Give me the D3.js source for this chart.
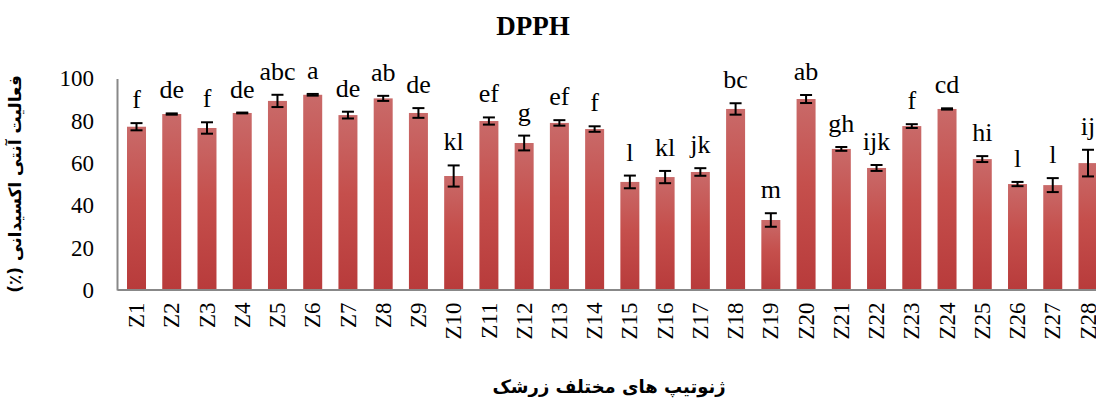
<html>
    <head>
        <meta charset="utf-8">
        <title>DPPH</title>
        <style>
            body { margin: 0; background: white; }
            text { font-family: "Liberation Serif", "Times New Roman", serif; }
        </style>
    </head>
    <body>
        <svg id="container" width="1096" height="407">
            <defs>
                <linearGradient id="barFill" x1="0" y1="0" x2="0" y2="1">
                    <stop offset="0%" stop-color="#c96a69"></stop>
                    <stop offset="45%" stop-color="#c54f4c"></stop>
                    <stop offset="100%" stop-color="#b83b3b"></stop>
                </linearGradient>
            </defs>
            <g id="bars"></g>
            <g id="yAxis"></g>
            <g id="xAxis"></g>
        </svg>
    </body>
    <script src="https://d3js.org/d3.v7.min.js"></script>
    <script>
        // genotypes
        let genotypes = ["Z1","Z2","Z3","Z4","Z5","Z6","Z7","Z8","Z9","Z10","Z11","Z12","Z13","Z14",
                         "Z15","Z16","Z17","Z18","Z19","Z20","Z21","Z22","Z23","Z24","Z25","Z26","Z27","Z28"]
        // antioxidant activity (%)
        let activity = [77.2, 83.2, 76.6, 83.7, 89.4, 92.3, 82.7, 90.6, 83.7, 53.9, 79.9, 69.5, 79.0, 76.1,
                        51.1, 53.4, 55.8, 85.6, 33.1, 90.3, 66.7, 57.7, 77.5, 85.6, 61.9, 50.1, 49.6, 60.0]
        // standard error
        let errors = [1.7, 0.3, 2.7, 0.2, 2.9, 0.4, 1.6, 1.2, 2.3, 5.0, 1.7, 3.5, 1.3, 1.3,
                      3.0, 2.9, 1.8, 2.7, 3.2, 1.9, 0.9, 1.4, 0.9, 0.3, 1.4, 1.0, 3.3, 6.3]
        // duncan letters
        let letters = ["f","de","f","de","abc","a","de","ab","de","kl","ef","g","ef","f",
                       "l","kl","jk","bc","m","ab","gh","ijk","f","cd","hi","l","l","ij"]
        let yTicks = [0, 20, 40, 60, 80, 100]

        let clients = genotypes.map((g, i) => ({name: g, value: activity[i], err: errors[i], letter: letters[i]}))

        let container = d3.select("#container")

        let yScale = d3.scaleLinear().domain([0, 100]).range([290, 78.5])
        let xScale = d3.scaleBand()
                       .domain(genotypes)
                       .range([117, 1107.5])
                       .paddingInner(0.461)
                       .paddingOuter(0.284)

        let body = d3.select("#bars")

        body.selectAll("rect")
            .data(clients)
            .enter()
            .append("rect")
            .attr("x", d => xScale(d.name))
            .attr("y", d => yScale(d.value))
            .attr("width", xScale.bandwidth())
            .attr("height", d => yScale(0) - yScale(d.value))
            .style("fill", "url(#barFill)")

        // error bars
        let cap = 6
        let errG = body.selectAll("g.err")
            .data(clients)
            .enter()
            .append("g")
            .attr("class", "err")
            .style("stroke", "black")
            .style("stroke-width", 2)
        errG.append("line")
            .attr("x1", d => xScale(d.name) + xScale.bandwidth() / 2)
            .attr("x2", d => xScale(d.name) + xScale.bandwidth() / 2)
            .attr("y1", d => yScale(d.value + d.err))
            .attr("y2", d => yScale(d.value - d.err))
        errG.append("line")
            .attr("x1", d => xScale(d.name) + xScale.bandwidth() / 2 - cap)
            .attr("x2", d => xScale(d.name) + xScale.bandwidth() / 2 + cap)
            .attr("y1", d => yScale(d.value + d.err))
            .attr("y2", d => yScale(d.value + d.err))
        errG.append("line")
            .attr("x1", d => xScale(d.name) + xScale.bandwidth() / 2 - cap)
            .attr("x2", d => xScale(d.name) + xScale.bandwidth() / 2 + cap)
            .attr("y1", d => yScale(d.value - d.err))
            .attr("y2", d => yScale(d.value - d.err))

        // letters
        body.selectAll("text.letter")
            .data(clients)
            .enter()
            .append("text")
            .attr("class", "letter")
            .attr("x", d => xScale(d.name) + xScale.bandwidth() / 2)
            .attr("y", d => yScale(d.value + d.err) - 15)
            .attr("text-anchor", "middle")
            .style("font-size", "26px")
            .text(d => d.letter)

        // axes
        let yAxis = d3.axisLeft(yScale).tickValues(yTicks).tickSize(0).tickPadding(23)
        d3.select("#yAxis")
          .attr("transform", "translate(117, 0)")
          .call(yAxis)
          .attr("font-family", null)
        d3.select("#yAxis").selectAll("text")
          .style("font-size", "23px")
          .attr("fill", "black")
        d3.select("#yAxis").select(".domain").attr("stroke", "#888").attr("stroke-width", 2)

        let xAxis = d3.axisBottom(xScale).tickSize(0).tickSizeOuter(0)
        d3.select("#xAxis")
          .attr("transform", "translate(0, 289.5)")
          .call(xAxis)
          .attr("font-family", null)
        d3.select("#xAxis").select(".domain").attr("stroke", "#888").attr("stroke-width", 2)
        d3.select("#xAxis").selectAll("text")
          .attr("transform", "rotate(-90)")
          .attr("x", -13)
          .attr("y", 0)
          .attr("dy", "0.33em")
          .attr("text-anchor", "end")
          .attr("fill", "black")
          .style("font-size", "23px")

        // titles
        container.append("text")
                 .attr("x", 533)
                 .attr("y", 35)
                 .attr("text-anchor", "middle")
                 .style("font-weight", "bold")
                 .style("font-size", "27px")
                 .text("DPPH")

        container.append("text")
                 .attr("x", 609)
                 .attr("y", 393)
                 .attr("text-anchor", "middle")
                 .attr("direction", "rtl")
                 .style("font-family", "'DejaVu Sans', sans-serif")
                 .style("font-weight", "bold")
                 .style("font-size", "18px")
                 .text("ژنوتیپ های مختلف زرشک")

        container.append("text")
                 .attr("transform", "translate(21, 184) rotate(-90)")
                 .attr("text-anchor", "middle")
                 .attr("direction", "rtl")
                 .style("font-family", "'DejaVu Sans', sans-serif")
                 .style("font-weight", "bold")
                 .style("font-size", "17px")
                 .text("فعالیت آنتی اکسیدانی (٪)")
    </script>
</html>
